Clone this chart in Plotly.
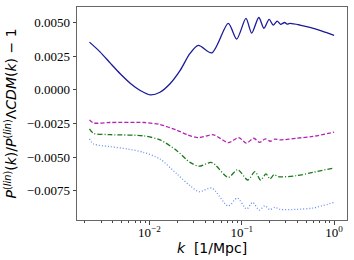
import plotly.graph_objects as go

# Solid (navy) series
k_solid = [0.00224, 0.00293, 0.00376, 0.00482, 0.00618, 0.00794, 0.0102, 0.0130, 0.0167,
           0.0215, 0.0275, 0.0339, 0.0473, 0.0714, 0.0881, 0.111, 0.128, 0.153, 0.174,
           0.198, 0.219, 0.242, 0.263, 0.291, 0.310, 0.332, 0.427, 0.546, 0.741, 1.0]
v_solid = [0.00354, 0.0028, 0.00198, 0.00119, 0.00049, -0.00005, -0.00037, -0.00018, 0.00045,
           0.00144, 0.0027, 0.0033, 0.00274, 0.00493, 0.00377, 0.0053, 0.00421, 0.00537, 0.00457,
           0.00523, 0.00481, 0.0051, 0.00486, 0.00500, 0.00488, 0.00493, 0.00481, 0.00463, 0.00435, 0.00404]

# Dashed (magenta) series
k_dash = [0.00224, 0.00248, 0.00376, 0.0086, 0.0130, 0.0198, 0.0260, 0.0339, 0.0492, 0.0714,
          0.0925, 0.112, 0.135, 0.156, 0.180, 0.204, 0.229, 0.259, 0.39, 0.59, 1.0]
v_dash = [-0.00223, -0.00246, -0.00243, -0.00243, -0.00258, -0.00300, -0.00335, -0.00355, -0.00334, -0.00392,
          -0.00355, -0.00396, -0.00360, -0.00390, -0.00364, -0.00382, -0.00366, -0.00372, -0.00360, -0.00346, -0.00315]

# Dash-dot (green) series
k_dashdot = [0.00224, 0.00248, 0.00376, 0.0086, 0.0130, 0.0198, 0.0275, 0.0345, 0.0473, 0.0714,
             0.0904, 0.116, 0.139, 0.160, 0.183, 0.202, 0.224, 0.248, 0.39, 0.59, 1.0]
v_dashdot = [-0.0029, -0.00323, -0.00333, -0.00342, -0.00372, -0.00452, -0.00539, -0.00567, -0.0054, -0.0065,
             -0.00593, -0.0067, -0.00608, -0.0067, -0.00625, -0.00662, -0.0063, -0.00645, -0.00638, -0.00613, -0.0058]

# Dotted (light blue) series
k_dot = [0.00224, 0.00248, 0.00376, 0.0057, 0.0086, 0.0130, 0.0198, 0.0275, 0.0345, 0.0473, 0.0714,
         0.0893, 0.113, 0.131, 0.155, 0.178, 0.202, 0.229, 0.259, 0.39, 0.59, 1.0]
v_dot = [-0.00365, -0.00402, -0.00422, -0.00439, -0.00464, -0.00514, -0.00625, -0.00712, -0.00757, -0.0073, -0.00863,
         -0.00804, -0.00885, -0.00836, -0.00893, -0.00861, -0.0089, -0.00873, -0.00888, -0.00888, -0.00878, -0.00836]

x_tickvals = [0.01, 0.1, 1]
x_ticktext = ["10<sup>−2</sup>", "10<sup>−1</sup>", "10<sup>0</sup>"]
y_tickvals = [0.005, 0.0025, 0.0, -0.0025, -0.005, -0.0075]
y_ticktext = ["0.0050", "0.0025", "0.0000", "−0.0025", "−0.0050", "−0.0075"]

fig = go.Figure()
fig.add_trace(go.Scatter(x=k_solid, y=v_solid, mode="lines",
                         line=dict(color="#1a1a9a", width=1.3, shape="spline", smoothing=0.8)))
fig.add_trace(go.Scatter(x=k_dash, y=v_dash, mode="lines",
                         line=dict(color="#b324b3", width=1.3, dash="4px,2px", shape="spline", smoothing=0.8)))
fig.add_trace(go.Scatter(x=k_dashdot, y=v_dashdot, mode="lines",
                         line=dict(color="#1a7a1a", width=1.3, dash="5px,2px,1px,2px", shape="spline", smoothing=0.8)))
fig.add_trace(go.Scatter(x=k_dot, y=v_dot, mode="lines",
                         line=dict(color="#6a8ef0", width=1.3, dash="1px,2px", shape="spline", smoothing=0.8)))

serif = "Liberation Serif, Times New Roman, serif"
axis_font = dict(family=serif, size=13, color="black")
fig.update_layout(
    width=354, height=260,
    margin=dict(l=77, r=7, t=7, b=40),
    paper_bgcolor="white", plot_bgcolor="white",
    showlegend=False,
    xaxis=dict(type="log", range=[-2.785, 0.14], tickvals=x_tickvals, ticktext=x_ticktext,
               ticks="outside", ticklen=3.5, tickcolor="#444", tickfont=axis_font,
               ticklabelstandoff=-3, automargin=False,
               showgrid=False, zeroline=False, showline=True, linecolor="#666", linewidth=1, mirror=True,
               minor=dict(ticks="outside", ticklen=2, tickcolor="#444", dtick="D1", showgrid=False),
               title=dict(text="<i>k</i>  [1/Mpc]", font=dict(family="DejaVu Sans", size=14, color="black"),
                          standoff=0)),
    yaxis=dict(range=[-0.00967, 0.00615], tickvals=y_tickvals, ticktext=y_ticktext,
               ticks="outside", ticklen=3.5, tickcolor="#444", tickfont=axis_font,
               automargin=False,
               showgrid=False, zeroline=False, showline=True, linecolor="#666", linewidth=1, mirror=True,
               title=dict(text="<i>P</i><sup>(<i>lin</i>)</sup>(<i>k</i>)/<i>P</i><sup>(<i>lin</i>)</sup>Λ<i>CDM</i>(<i>k</i>) − 1",
                          font=dict(family="DejaVu Sans", size=14, color="black"), standoff=6)),
)

fig.write_html("out.html", config={"displayModeBar": False},
               post_script="document.body.style.margin='0px';")
